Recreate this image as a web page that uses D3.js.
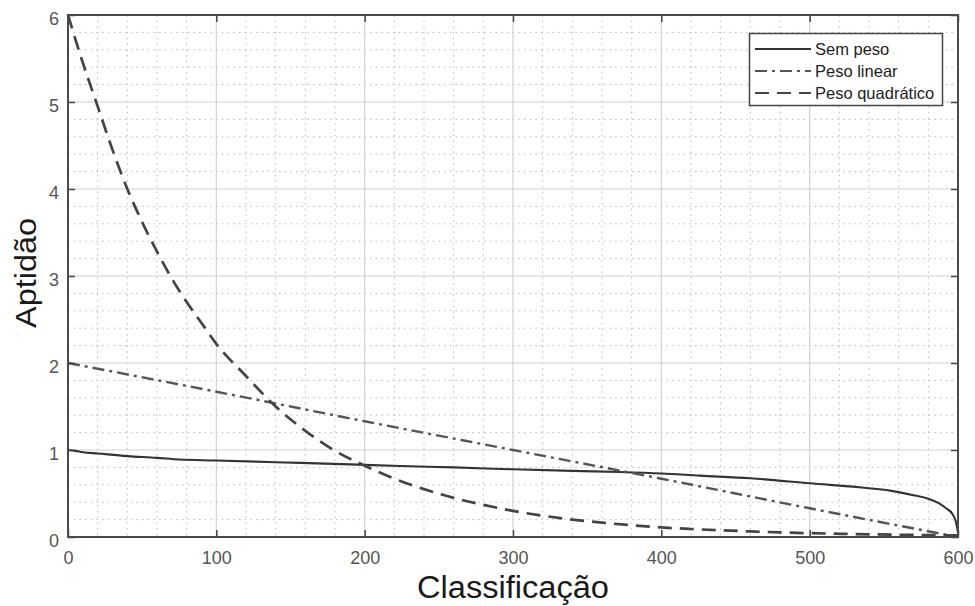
<!DOCTYPE html>
<html>
<head>
<meta charset="utf-8">
<script src="https://cdn.jsdelivr.net/npm/d3@7"></script>
<style>
  html, body { margin: 0; padding: 0; background: #fff; }
  svg { display: block; font-family: "Liberation Sans", Arial, Helvetica, sans-serif; }
</style>
</head>
<body>
<svg id="chart" width="975" height="606"></svg>
<script>
// ---- Data ----
const xTicks = [0, 100, 200, 300, 400, 500, 600];
const yTicks = [0, 1, 2, 3, 4, 5, 6];
const seriesNames = ["Sem peso", "Peso linear", "Peso quadrático"];

const semPesoX = [0, 5, 10, 20, 40, 60, 75, 100, 140, 190, 224, 260, 300, 340, 372, 400, 426, 460, 500, 540, 555, 570, 580, 587, 592, 596, 598.5, 600];
const semPesoY = [1.0, 0.99, 0.975, 0.96, 0.93, 0.91, 0.89, 0.88, 0.86, 0.835, 0.816, 0.80, 0.778, 0.76, 0.747, 0.73, 0.705, 0.675, 0.617, 0.56, 0.53, 0.48, 0.44, 0.39, 0.33, 0.27, 0.18, 0.05];

const linearX = [0, 100, 200, 300, 400, 500, 600];
const linearY = [2.0, 1.67, 1.33, 1.0, 0.67, 0.33, 0.0];

const quadX = [0, 10, 20, 30, 40, 50, 60, 70, 80, 90, 100, 120, 140, 160, 180, 200, 220, 240, 260, 280, 300, 320, 340, 360, 380, 400, 420, 440, 460, 480, 500, 530, 560, 600];
const quadY = [6.0, 5.45, 4.95, 4.45, 4.0, 3.62, 3.28, 2.97, 2.7, 2.46, 2.22, 1.85, 1.5, 1.22, 0.99, 0.82, 0.67, 0.55, 0.45, 0.37, 0.30, 0.245, 0.20, 0.165, 0.135, 0.11, 0.092, 0.077, 0.064, 0.053, 0.044, 0.034, 0.026, 0.018];

// ---- Layout ----
const svg = d3.select("#chart");
const L = 68, R = 958, T = 15, B = 537;
const x = d3.scaleLinear().domain([0, 600]).range([L, R]);
const y = d3.scaleLinear().domain([0, 6]).range([B, T]);

const minorX = d3.range(0, 601, 20).filter(v => v % 100 !== 0);
const minorY = d3.range(0, 31).map(i => i * 0.2).filter(v => Math.abs(v - Math.round(v)) > 1e-6);

const grid = svg.append("g");
grid.selectAll(".mx").data(minorX).join("line")
  .attr("x1", d => x(d)).attr("x2", d => x(d)).attr("y1", T).attr("y2", B)
  .attr("stroke", "#b8b8b8").attr("stroke-width", 1).attr("stroke-dasharray", "1.5,4.2");
grid.selectAll(".my").data(minorY).join("line")
  .attr("y1", d => y(d)).attr("y2", d => y(d)).attr("x1", L).attr("x2", R)
  .attr("stroke", "#b8b8b8").attr("stroke-width", 1).attr("stroke-dasharray", "1.5,4.2");
grid.selectAll(".gx").data(xTicks).join("line")
  .attr("x1", d => x(d)).attr("x2", d => x(d)).attr("y1", T).attr("y2", B)
  .attr("stroke", "#d2d2d2").attr("stroke-width", 1.2);
grid.selectAll(".gy").data(yTicks).join("line")
  .attr("y1", d => y(d)).attr("y2", d => y(d)).attr("x1", L).attr("x2", R)
  .attr("stroke", "#d2d2d2").attr("stroke-width", 1.2);

// ---- Lines ----
const line = d3.line().x(d => x(d[0])).y(d => y(d[1])).curve(d3.curveMonotoneX);
const series = [
  { pts: d3.zip(semPesoX, semPesoY), color: "#333", width: 2.1, dash: null },
  { pts: d3.zip(linearX, linearY), color: "#555", width: 2.4, dash: "12,5,3,5" },
  { pts: d3.zip(quadX, quadY), color: "#444", width: 2.7, dash: "14,8" }
];
series.forEach(s => {
  const p = svg.append("path").datum(s.pts).attr("d", line)
    .attr("fill", "none").attr("stroke", s.color).attr("stroke-width", s.width)
    .attr("stroke-linejoin", "round");
  if (s.dash) p.attr("stroke-dasharray", s.dash);
});

// ---- Axes ----
function styleAxis(g) {
  g.select(".domain").remove();
  g.selectAll(".tick line").attr("stroke", "#444").attr("stroke-width", 1.5);
  g.selectAll(".tick text").attr("fill", "#555").attr("font-size", 18)
    .attr("font-family", "'Liberation Sans', Arial, sans-serif");
}
svg.append("g").attr("transform", `translate(0,${B})`)
  .call(d3.axisBottom(x).tickValues(xTicks).tickSize(-7).tickPadding(14).tickFormat(d3.format("d")))
  .call(styleAxis);
svg.append("g").attr("transform", `translate(0,${T})`)
  .call(d3.axisTop(x).tickValues(xTicks).tickSize(-7).tickFormat(""))
  .call(styleAxis);
const yl = svg.append("g").attr("transform", `translate(${L},0)`)
  .call(d3.axisLeft(y).tickValues(yTicks).tickSize(-7).tickPadding(9).tickFormat(d3.format("d")))
  .call(styleAxis);
yl.selectAll(".tick text").attr("dy", "0.53em");
svg.append("g").attr("transform", `translate(${R},0)`)
  .call(d3.axisRight(y).tickValues(yTicks).tickSize(-7).tickFormat(""))
  .call(styleAxis);

// box
svg.append("rect").attr("x", L).attr("y", T).attr("width", R - L).attr("height", B - T)
  .attr("fill", "none").attr("stroke", "#4a4a4a").attr("stroke-width", 2);

// ---- Axis titles ----
svg.append("text").attr("x", (L + R) / 2).attr("y", 598).attr("text-anchor", "middle")
  .attr("font-size", 31).attr("fill", "#1a1a1a")
  .attr("textLength", 192).attr("lengthAdjust", "spacingAndGlyphs")
  .text("Classificação");
svg.append("text").attr("transform", `translate(36,273) rotate(-90)`)
  .attr("text-anchor", "middle").attr("font-size", 30).attr("fill", "#1a1a1a")
  .attr("textLength", 110).attr("lengthAdjust", "spacingAndGlyphs")
  .text("Aptidão");

// ---- Legend ----
const lg = svg.append("g");
lg.append("rect").attr("x", 749.5).attr("y", 33.5).attr("width", 193).attr("height", 72)
  .attr("fill", "#fff").attr("stroke", "#444").attr("stroke-width", 1.5);
const legY = [49, 71, 93];
seriesNames.forEach((name, i) => {
  const s = series[i];
  const l = lg.append("line").attr("x1", 755).attr("x2", 811).attr("y1", legY[i]).attr("y2", legY[i])
    .attr("stroke", s.color).attr("stroke-width", Math.min(s.width, 2.2));
  if (s.dash) l.attr("stroke-dasharray", s.dash);
  lg.append("text").attr("x", 815).attr("y", legY[i]).attr("dy", "0.36em")
    .attr("font-size", 16.5).attr("fill", "#222").text(name);
});
</script>
</body>
</html>
